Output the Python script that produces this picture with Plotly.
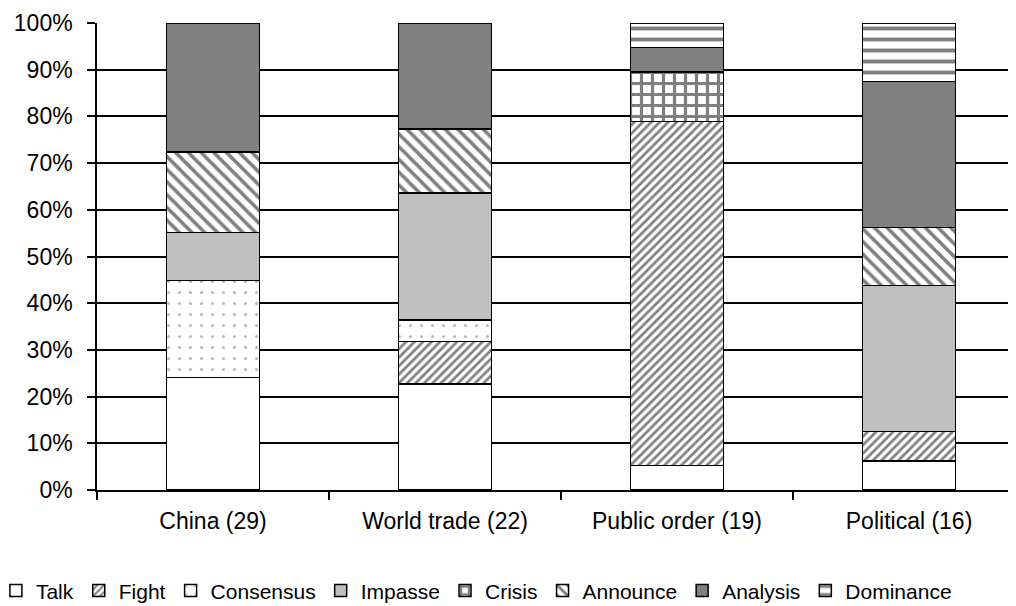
import plotly.graph_objects as go

categories = ["China (29)", "World trade (22)", "Public order (19)", "Political (16)"]

talk      = [7, 5, 1, 1]
fight     = [0, 2, 14, 1]
consensus = [6, 1, 0, 0]
impasse   = [3, 6, 0, 5]
crisis    = [0, 0, 2, 0]
announce  = [5, 3, 0, 2]
analysis  = [8, 5, 1, 5]
dominance = [0, 0, 1, 2]

y_ticks = [0, 10, 20, 30, 40, 50, 60, 70, 80, 90, 100]
y_tick_labels = ["0%", "10%", "20%", "30%", "40%", "50%", "60%", "70%", "80%", "90%", "100%"]

series = [
    ("Talk", talk, dict(color="white")),
    ("Fight", fight, dict(color="white", pattern=dict(shape="/", size=6, solidity=0.45, fgcolor="black", bgcolor="white"))),
    ("Consensus", consensus, dict(color="white", pattern=dict(shape=".", size=11, solidity=0.06, fgcolor="#707070", bgcolor="white"))),
    ("Impasse", impasse, dict(color="#c0c0c0")),
    ("Crisis", crisis, dict(color="white", pattern=dict(shape="+", size=11, solidity=0.5, fgcolor="black", bgcolor="white"))),
    ("Announce", announce, dict(color="white", pattern=dict(shape="\\", size=9, solidity=0.4, fgcolor="black", bgcolor="white"))),
    ("Analysis", analysis, dict(color="#808080")),
    ("Dominance", dominance, dict(color="white", pattern=dict(shape="-", size=11, solidity=0.35, fgcolor="black", bgcolor="white"))),
]

fig = go.Figure()
for name, vals, marker in series:
    m = dict(marker)
    m["line"] = dict(color="black", width=1.5)
    fig.add_trace(go.Bar(name=name, x=categories, y=[v if v else None for v in vals], marker=m))

font = "Liberation Sans, Arial, sans-serif"
fig.update_layout(
    barmode="stack",
    barnorm="percent",
    bargap=0.6,
    width=1008,
    height=598,
    margin=dict(l=89, r=0, t=15, b=116, autoexpand=False),
    paper_bgcolor="white",
    plot_bgcolor="white",
    font=dict(family=font, size=23, color="black"),
    showlegend=True,
    legend=dict(
        orientation="h",
        x=-0.11, xanchor="left",
        y=-0.216, yanchor="middle",
        font=dict(family=font, size=21, color="black"),
        traceorder="normal",
        itemwidth=30,
        tracegroupgap=0,
    ),
    xaxis=dict(
        range=[-0.5, 3.461],
        showline=True, linecolor="black", linewidth=1.5,
        ticks="outside", tickson="boundaries", ticklen=8, tickcolor="black", tickwidth=1.5,
        showgrid=False,
        ticklabelstandoff=10,
    ),
    yaxis=dict(
        range=[0, 100],
        tickvals=y_ticks,
        ticktext=y_tick_labels,
        showline=True, linecolor="black", linewidth=1.5,
        ticks="outside", ticklen=8, tickcolor="black", tickwidth=1.5,
        showgrid=True, gridcolor="black", gridwidth=1.5,
        zeroline=False,
        ticklabelstandoff=10,
    ),
)

fig.write_html("out.html")
